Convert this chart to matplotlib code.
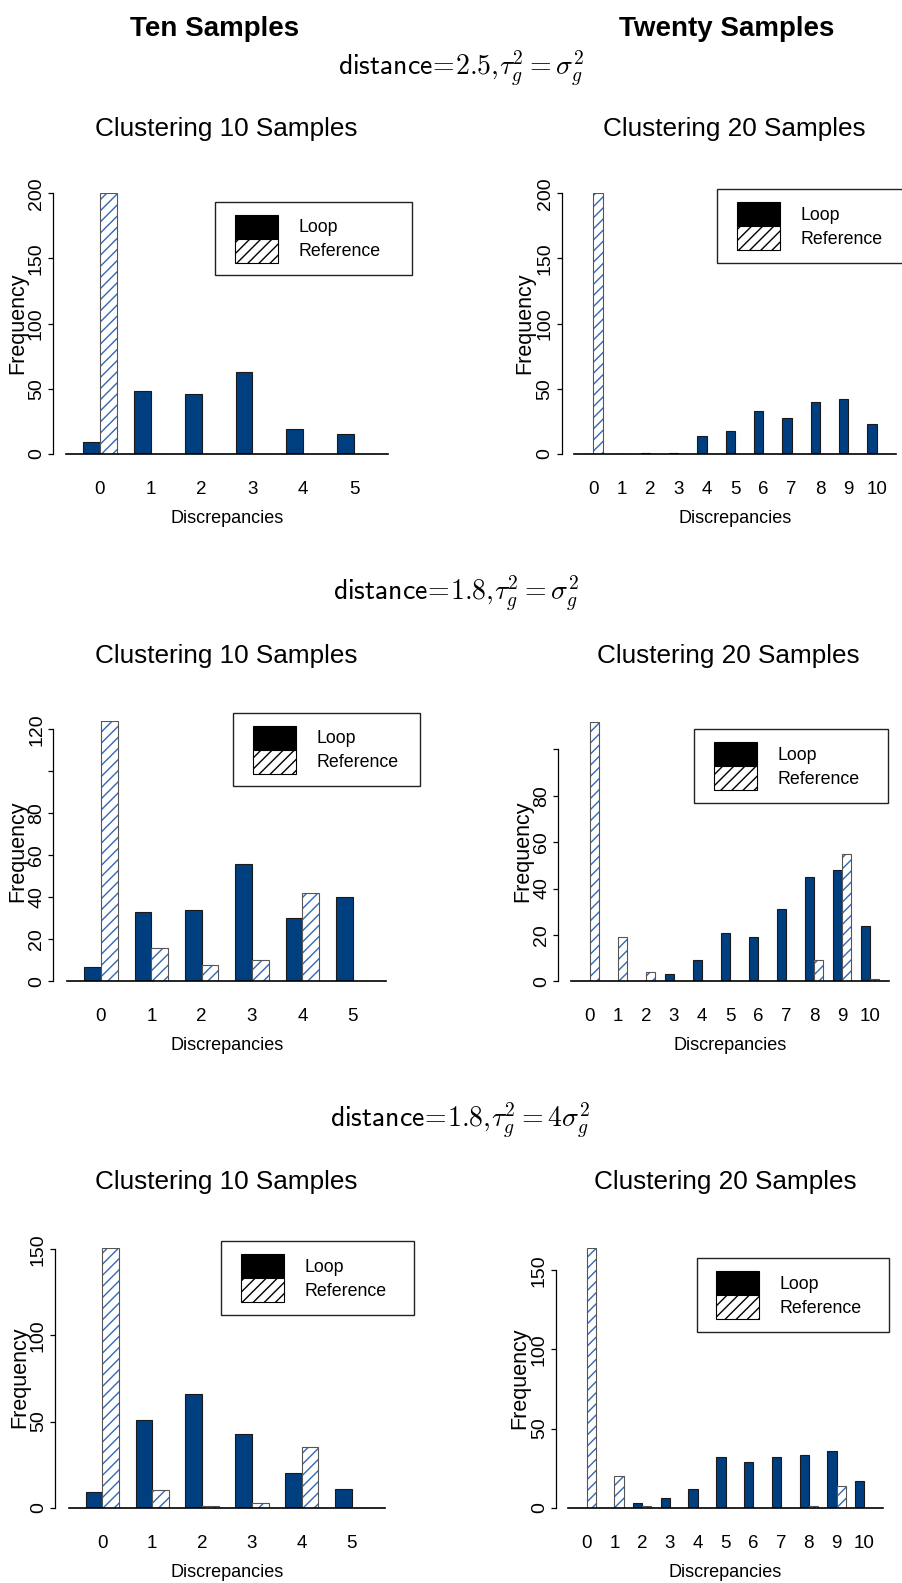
import matplotlib
matplotlib.use('Agg')
import matplotlib.pyplot as plt
from matplotlib.patches import Patch, Rectangle
from matplotlib.legend_handler import HandlerPatch

plt.rcParams['font.family'] = ['Liberation Sans', 'DejaVu Sans']
plt.rcParams['mathtext.fontset'] = 'cm'
plt.rcParams['hatch.linewidth'] = 1.0

W, H = 903, 1583
LOOP = '#003F7F'
HATCH = '#3468B2'

# ---- data ----
disc10 = ['0', '1', '2', '3', '4', '5']
disc20 = ['0', '1', '2', '3', '4', '5', '6', '7', '8', '9', '10']

loop_a10 = [9, 48, 46, 63, 19, 15]
ref_a10 = [200, 0, 0, 0, 0, 0]
loop_a20 = [0, 0, 1, 1, 14, 18, 33, 28, 40, 42, 23]
ref_a20 = [200, 0, 0, 0, 0, 0, 0, 0, 0, 0, 0]

loop_b10 = [7, 33, 34, 56, 30, 40]
ref_b10 = [124, 16, 8, 10, 42, 0]
loop_b20 = [0, 0, 0, 3, 9, 21, 19, 31, 45, 48, 24]
ref_b20 = [112, 19, 4, 0, 0, 0, 0, 0, 9, 55, 1]

loop_c10 = [9, 51, 66, 43, 20, 11]
ref_c10 = [151, 10, 1, 3, 35, 0]
loop_c20 = [0, 0, 3, 6, 12, 32, 29, 32, 33, 36, 17]
ref_c20 = [164, 20, 1, 0, 0, 0, 0, 0, 1, 14, 0]

yt_200 = [0, 50, 100, 150, 200]
yt_150 = [0, 50, 100, 150]
yt_120 = [0, 20, 40, 60, 80, 100, 120]
yt_100 = [0, 20, 40, 60, 80, 100]
hide_100 = [100]   # R dropped these labels

headers = [r'$\mathsf{distance}\!=\!\mathsf{2.5},\!\tau_g^2=\sigma_g^2$',
           r'$\mathsf{distance}\!=\!1.8,\!\tau_g^2=\sigma_g^2$',
           r'$\mathsf{distance}\!=\!1.8,\!\tau_g^2=4\sigma_g^2$']

panels = [
    (disc10, loop_a10, ref_a10, yt_200, []),
    (disc20, loop_a20, ref_a20, yt_200, []),
    (disc10, loop_b10, ref_b10, yt_120, hide_100),
    (disc20, loop_b20, ref_b20, yt_100, hide_100),
    (disc10, loop_c10, ref_c10, yt_150, []),
    (disc20, loop_c20, ref_c20, yt_150, []),
]

# layout in pixels: left(x=0), right, baseline, top(ymax), y-axis x, ylabel right edge, legend (x0, y0, w)
layout = [
    (66.1, 388.0, 454.0, 193.3, 53.0, 28.0, (215, 201.7, 197)),
    (574.4, 895.6, 454.0, 193.3, 561.7, 535.0, (717, 189, 197)),
    (67.4, 386.3, 981.3, 720.9, 53.3, 28.3, (233, 712.7, 187)),
    (571.3, 888.7, 981.3, 721.5, 558.3, 533.0, (694, 729, 194.3)),
    (69.1, 385.0, 1507.7, 1247.6, 55.0, 30.0, (221, 1241.3, 193.3)),
    (568.2, 882.8, 1507.7, 1248.1, 556.0, 530.0, (696.7, 1258, 192.6)),
]


def swatch(legend, orig_handle, xdescent, ydescent, width, height, fontsize):
    # R puts a little more room left of the boxes than above them
    return Rectangle((-xdescent + 5, -ydescent), width - 5, height)


fig = plt.figure(figsize=(W / 100, H / 100), dpi=100)

for (names, loop, ref, yticks, hidden), (l, r, b, t, sx, lx, leg) in zip(panels, layout):
    ax = fig.add_axes([l / W, 1 - b / H, (r - l) / W, (b - t) / H])
    n = len(names)
    xl = [1 + 3 * i for i in range(n)]
    xr = [2 + 3 * i for i in range(n)]
    ax.bar(xl, loop, width=1, align='edge', color=LOOP, edgecolor='#1a1a1a', lw=0.8, zorder=2)
    ax.bar(xr, ref, width=1, align='edge', color='white', edgecolor=HATCH, hatch='///', lw=0, zorder=2)
    ax.bar(xr, ref, width=1, align='edge', fill=False, edgecolor='#555555', lw=0.8, zorder=3)
    ax.axhline(0, color='black', lw=1.2, clip_on=False, zorder=4)
    ax.set_xlim(0, 3 * n + 1)
    ax.set_ylim(0, max(max(loop), max(ref)))

    for s in ['top', 'right', 'bottom']:
        ax.spines[s].set_visible(False)
    ax.spines['left'].set_position(('outward', (l - sx) * 0.72))
    ax.spines['left'].set_bounds(0, yticks[-1])
    ax.spines['left'].set_linewidth(0.9)

    ax.set_xticks([2 + 3 * i for i in range(n)])
    ax.set_xticklabels(names, fontsize=13.5)
    ax.tick_params(axis='x', length=0, pad=19.5)

    ax.set_yticks(yticks)
    ax.set_yticklabels(['' if v in hidden else str(v) for v in yticks],
                       fontsize=14, rotation=90, va='center')
    ax.tick_params(axis='y', length=3.6, width=0.9, pad=2.2)

    ax.set_ylabel('Frequency', fontsize=15.5)
    ax.yaxis.set_label_coords((lx - l) / (r - l), 0.5)
    ax.set_xlabel('Discrepancies', fontsize=13)
    ax.xaxis.set_label_coords(0.5, -56 / (b - t))

    handles = [Patch(facecolor='black', edgecolor='black', lw=0.8),
               Patch(facecolor='white', edgecolor='black', hatch='///', lw=0.8)]
    lg = fig.legend(handles, ['Loop', 'Reference'], loc='upper left',
                    bbox_to_anchor=(leg[0] / W, 1 - leg[1] / H - 0.01, leg[2] / W, 0.01),
                    mode='expand', borderaxespad=0, borderpad=0.72, labelspacing=0,
                    handlelength=2.8, handleheight=1.70, handletextpad=1.15,
                    handler_map={Patch: HandlerPatch(patch_func=swatch)},
                    fontsize=12.8, fancybox=False, framealpha=1)
    lg.get_frame().set_edgecolor('#222222')
    lg.get_frame().set_linewidth(1.0)

fig.text(215 / W, 1 - 29.3 / H, 'Ten Samples', fontsize=20, fontweight='bold', ha='center', va='center')
fig.text(727 / W, 1 - 29.3 / H, 'Twenty Samples', fontsize=20, fontweight='bold', ha='center', va='center')

head_y = [68.7, 594, 1121]
head_x = [460.6, 455.6, 459.6]
clus_y = [129.3, 655.6, 1182]
clus_x2 = [734, 728, 725]
for hx, hy, cy, cx2, txt in zip(head_x, head_y, clus_y, clus_x2, headers):
    fig.text(hx / W, 1 - hy / H, txt, fontsize=20, ha='center', va='center')
    fig.text(226 / W, 1 - cy / H, 'Clustering 10 Samples', fontsize=18.8, ha='center', va='center')
    fig.text(cx2 / W, 1 - cy / H, 'Clustering 20 Samples', fontsize=18.8, ha='center', va='center')

fig.savefig('out.png', dpi=100)
